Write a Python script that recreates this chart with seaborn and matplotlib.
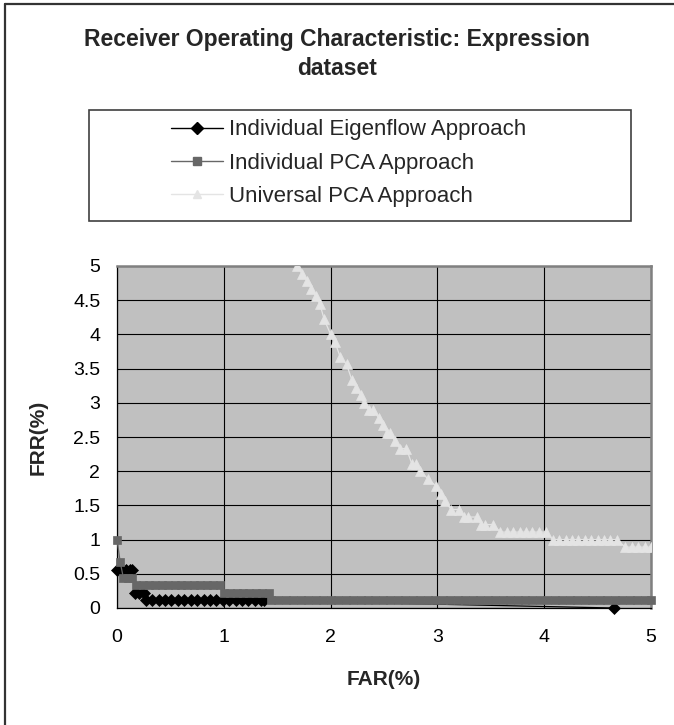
import matplotlib
matplotlib.use("Agg")
import matplotlib.pyplot as plt
import matplotlib.patches as mpatches
import matplotlib.lines as mlines
import seaborn as sns
import pandas as pd

# ---------------- data ----------------
series_names = ["Individual Eigenflow Approach", "Individual PCA Approach", "Universal PCA Approach"]

eig_far = [0.00, 0.04, 0.08, 0.12, 0.14, 0.17, 0.21, 0.25,
           0.27, 0.33, 0.39, 0.45, 0.51, 0.57, 0.63, 0.69, 0.75, 0.81,
           0.87, 0.93, 0.99, 1.05, 1.11, 1.17, 1.23, 1.29, 1.35, 1.38, 4.65]
eig_frr = [0.56, 0.56, 0.56, 0.56, 0.56, 0.22, 0.22, 0.22,
           0.11, 0.11, 0.11, 0.11, 0.11, 0.11, 0.11, 0.11, 0.11, 0.11,
           0.11, 0.11, 0.11, 0.11, 0.11, 0.11, 0.11, 0.11, 0.11, 0.11, 0.00]

pca_far = [0.00, 0.03, 0.06, 0.10, 0.14,
           0.18, 0.24, 0.30, 0.36, 0.42, 0.48, 0.54, 0.60, 0.66, 0.72, 0.78, 0.84, 0.90, 0.96,
           1.00, 1.06, 1.12, 1.18, 1.24, 1.30, 1.36, 1.42,
           1.44, 1.51, 1.58, 1.65, 1.72, 1.79, 1.86, 1.93, 2.00, 2.07, 2.14, 2.21, 2.28,
           2.35, 2.42, 2.49, 2.56, 2.63, 2.70, 2.77, 2.84, 2.91, 2.98, 3.05, 3.12, 3.19,
           3.26, 3.33, 3.40, 3.47, 3.54, 3.61, 3.68, 3.75, 3.82, 3.89, 3.96, 4.03, 4.10,
           4.17, 4.24, 4.31, 4.38, 4.45, 4.52, 4.59, 4.66, 4.73, 4.80, 4.87, 4.94, 5.00]
pca_frr = [1.00, 0.67, 0.44, 0.44, 0.44,
           0.33, 0.33, 0.33, 0.33, 0.33, 0.33, 0.33, 0.33, 0.33, 0.33, 0.33, 0.33, 0.33, 0.33,
           0.22, 0.22, 0.22, 0.22, 0.22, 0.22, 0.22, 0.22,
           0.11, 0.11, 0.11, 0.11, 0.11, 0.11, 0.11, 0.11, 0.11, 0.11, 0.11, 0.11, 0.11,
           0.11, 0.11, 0.11, 0.11, 0.11, 0.11, 0.11, 0.11, 0.11, 0.11, 0.11, 0.11, 0.11,
           0.11, 0.11, 0.11, 0.11, 0.11, 0.11, 0.11, 0.11, 0.11, 0.11, 0.11, 0.11, 0.11,
           0.11, 0.11, 0.11, 0.11, 0.11, 0.11, 0.11, 0.11, 0.11, 0.11, 0.11, 0.11, 0.11]

uni_far = [1.69, 1.73, 1.78, 1.82, 1.86, 1.90, 1.94, 2.00, 2.04, 2.09, 2.15, 2.20, 2.24,
           2.28, 2.31, 2.36, 2.40, 2.45, 2.49, 2.53, 2.56, 2.60, 2.65, 2.71, 2.76, 2.80,
           2.84, 2.91, 2.99, 3.03, 3.07, 3.13, 3.20, 3.25, 3.29, 3.37, 3.41, 3.45, 3.52,
           3.59, 3.65, 3.71, 3.77, 3.83, 3.89, 3.95, 4.02,
           4.08, 4.14, 4.20, 4.26, 4.32, 4.38, 4.44, 4.50, 4.56, 4.62, 4.68,
           4.76, 4.82, 4.88, 4.94, 5.00, 5.06]
uni_frr = [5.00, 4.89, 4.78, 4.67, 4.56, 4.44, 4.22, 4.00, 3.89, 3.67, 3.56, 3.33, 3.22,
           3.11, 3.00, 2.89, 2.89, 2.78, 2.67, 2.56, 2.56, 2.44, 2.33, 2.33, 2.11, 2.11,
           2.00, 1.89, 1.78, 1.67, 1.56, 1.44, 1.44, 1.33, 1.33, 1.33, 1.22, 1.22, 1.22,
           1.11, 1.11, 1.11, 1.11, 1.11, 1.11, 1.11, 1.11,
           1.00, 1.00, 1.00, 1.00, 1.00, 1.00, 1.00, 1.00, 1.00, 1.00, 1.00,
           0.89, 0.89, 0.89, 0.89, 0.89, 0.89]

x_ticks = [0, 1, 2, 3, 4, 5]
x_tick_labels = ["0", "1", "2", "3", "4", "5"]
y_ticks = [0, 0.5, 1, 1.5, 2, 2.5, 3, 3.5, 4, 4.5, 5]
y_tick_labels = ["0", "0.5", "1", "1.5", "2", "2.5", "3", "3.5", "4", "4.5", "5"]

title_line1 = "Receiver Operating Characteristic: Expression"
title_line2 = "dataset"
x_label = "FAR(%)"
y_label = "FRR(%)"

# ---------------- style ----------------
sns.set_style("white")
plt.rcParams["font.family"] = ["Liberation Sans", "DejaVu Sans"]

W, H = 674, 725
fig = plt.figure(figsize=(W / 100, H / 100), dpi=100)

def fx(px):
    return px / W

def fy(py):
    return 1 - py / H

ax_l, ax_r, ax_t, ax_b = 117, 651, 266, 608
ax = fig.add_axes([fx(ax_l), fy(ax_b), (ax_r - ax_l) / W, (ax_b - ax_t) / H])
ax.set_facecolor("#c0c0c0")

colors = ["#000000", "#676767", "#e4e4e4"]
markers = ["D", "s", "^"]
msizes = [6.3, 5.8, 6.8]
datasets = [(eig_far, eig_frr), (pca_far, pca_frr), (uni_far, uni_frr)]

for i, (name, (xs, ys)) in enumerate(zip(series_names, datasets)):
    df = pd.DataFrame({"FAR": xs, "FRR": ys})
    sns.lineplot(data=df, x="FAR", y="FRR", ax=ax, sort=False, estimator=None,
                 color=colors[i], marker=markers[i], markersize=msizes[i],
                 markeredgecolor=colors[i], markeredgewidth=0.5,
                 linewidth=0.9, label=name, legend=False, zorder=3 + i)

# markers sitting on the axes edges show fully (as in the original)
ax.lines[0].set_clip_on(False)
ax.lines[1].set_clip_on(False)

ax.set_xlim(0, 5)
ax.set_ylim(0, 5)
ax.set_xticks(x_ticks)
ax.set_xticklabels(x_tick_labels)
ax.set_yticks(y_ticks)
ax.set_yticklabels(y_tick_labels)
ax.grid(True, color="black", linewidth=0.8)
ax.set_axisbelow(True)

ax.tick_params(axis="both", direction="out", length=4, width=0.8, color="black",
               labelsize=14, labelcolor="black")
ax.tick_params(axis="x", pad=11)
ax.tick_params(axis="y", pad=8)

for side in ["top", "right"]:
    ax.spines[side].set_color("#808080")
    ax.spines[side].set_linewidth(1.8)
for side in ["left", "bottom"]:
    ax.spines[side].set_color("black")
    ax.spines[side].set_linewidth(0.9)

ax.set_xlabel(x_label, fontsize=15, fontweight="bold")
ax.set_ylabel(y_label, fontsize=15, fontweight="bold")
ax.xaxis.set_label_coords(0.5, (ax_b - 670) / (ax_b - ax_t))
ax.yaxis.set_label_coords((48 - ax_l) / (ax_r - ax_l), 0.5)

# title
fig.text(fx(337), fy(46), title_line1, ha="center", va="baseline",
         fontsize=16.5, fontweight="bold")
fig.text(fx(337), fy(75), title_line2, ha="center", va="baseline",
         fontsize=16.5, fontweight="bold")

# legend
handles = [mlines.Line2D([], [], color=colors[i], marker=markers[i],
                         markersize=msizes[i] * 0.9, markeredgecolor=colors[i],
                         linewidth=1.0)
           for i in range(3)]
leg = fig.legend(handles, series_names, loc="center",
                 bbox_to_anchor=(fx(349), fy(163)), bbox_transform=fig.transFigure,
                 frameon=False, fontsize=16, handlelength=2.3, handletextpad=0.3,
                 labelspacing=0.55)

fig.patches.append(mpatches.Rectangle((fx(89), fy(221)), (631 - 89) / W, (221 - 110) / H,
                                      transform=fig.transFigure, fill=False,
                                      edgecolor="#404040", linewidth=1.2))

# outer frame (left and top edges visible)
fig.add_artist(mlines.Line2D([fx(5), fx(5)], [fy(4), 0], transform=fig.transFigure,
                             color="#333333", linewidth=1.6))
fig.add_artist(mlines.Line2D([fx(5), 1], [fy(4), fy(4)], transform=fig.transFigure,
                             color="#333333", linewidth=1.6))

fig.savefig("out.png", dpi=100)
